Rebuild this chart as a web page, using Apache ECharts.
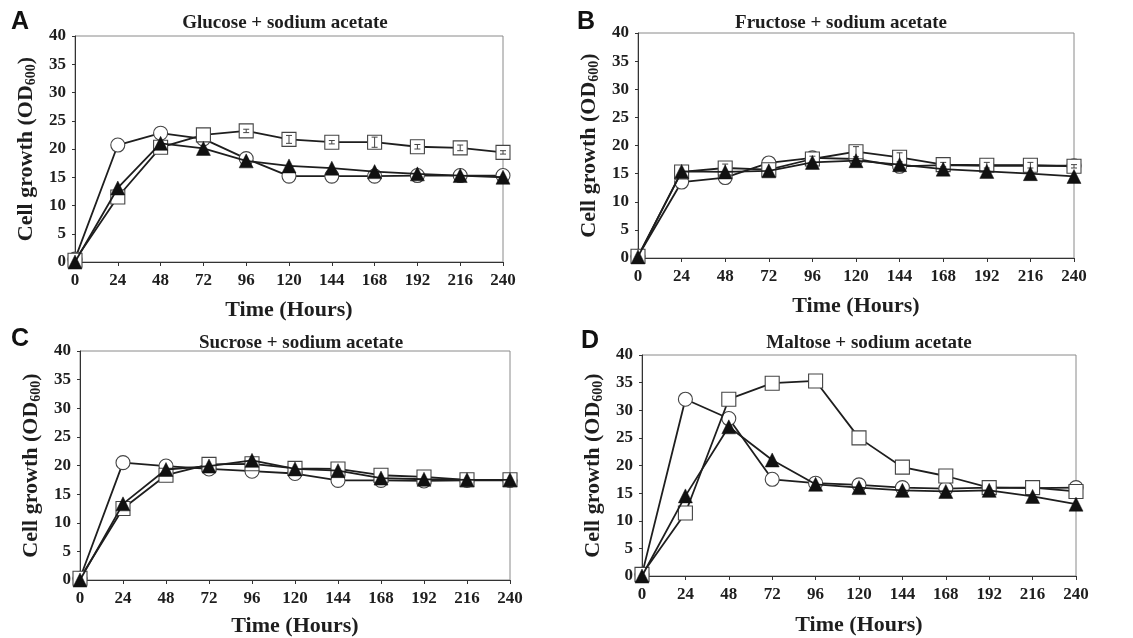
<!DOCTYPE html>
<html>
<head>
<meta charset="utf-8">
<script src="https://cdn.jsdelivr.net/npm/echarts@6/dist/echarts.min.js"></script>
<style>
  html, body { margin: 0; padding: 0; background: #fff; }
  #chart { width: 1133px; height: 638px; }
</style>
</head>
<body>
<div id="chart"></div>
<script>
// time points (hours)
var hours = [0, 24, 48, 72, 96, 120, 144, 168, 192, 216, 240];
var yTicks = [0, 40, 5];

var panelLetters = ['A', 'B', 'C', 'D'];
var panelTitles = ['Glucose + sodium acetate', 'Fructose + sodium acetate',
                   'Sucrose + sodium acetate', 'Maltose + sodium acetate'];

// A - glucose
var glucoseCircle   = [0.5, 20.7, 22.8, 21.8, 18.3, 15.2, 15.2, 15.2, 15.3, 15.3, 15.3];
var glucoseSquare   = [0.3, 11.5, 20.3, 22.5, 23.2, 21.7, 21.2, 21.2, 20.4, 20.2, 19.4];
var glucoseTriangle = [0.0, 13.1, 21.0, 20.1, 17.9, 17.0, 16.6, 16.0, 15.6, 15.3, 15.0];
var glucoseSquareErr = [0, 0, 0, 0, 0.3, 0.7, 0.3, 0.9, 0.4, 0.5, 0.3];

// B - fructose
var fructoseCircle   = [0.3, 13.5, 14.3, 16.9, 17.8, 17.6, 16.3, 16.5, 16.4, 16.4, 16.4];
var fructoseSquare   = [0.3, 15.3, 16.0, 15.7, 17.6, 18.9, 17.9, 16.6, 16.5, 16.5, 16.3];
var fructoseTriangle = [0.2, 15.4, 15.3, 15.5, 17.0, 17.3, 16.6, 15.8, 15.4, 15.0, 14.5];
var fructoseSquareErr = [0, 0, 0.7, 0, 0.5, 0.9, 0.8, 0.4, 0.5, 0.5, 0.3];

// C - sucrose
var sucroseCircle   = [0.3, 20.5, 19.9, 19.4, 19.0, 18.6, 17.4, 17.4, 17.3, 17.4, 17.4];
var sucroseSquare   = [0.3, 12.5, 18.3, 20.2, 20.3, 19.5, 19.4, 18.3, 18.0, 17.5, 17.5];
var sucroseTriangle = [0.0, 13.3, 19.3, 19.9, 20.9, 19.4, 19.1, 17.8, 17.6, 17.5, 17.5];

// D - maltose
var maltoseCircle   = [0.3, 32.0, 28.5, 17.5, 16.8, 16.5, 16.0, 15.8, 16.0, 15.9, 16.0];
var maltoseSquare   = [0.3, 11.4, 32.0, 34.9, 35.3, 25.0, 19.7, 18.1, 16.0, 16.0, 15.3];
var maltoseTriangle = [0.0, 14.5, 27.0, 21.0, 16.6, 16.0, 15.5, 15.3, 15.5, 14.4, 13.0];

var panels = [
    {c: glucoseCircle, s: glucoseSquare, t: glucoseTriangle, e: glucoseSquareErr},
    {c: fructoseCircle, s: fructoseSquare, t: fructoseTriangle, e: fructoseSquareErr},
    {c: sucroseCircle, s: sucroseSquare, t: sucroseTriangle, e: null},
    {c: maltoseCircle, s: maltoseSquare, t: maltoseTriangle, e: null}
];

// layout of the four plot boxes
var grids = [
    {left: 75,  top: 36,  width: 428, height: 226},
    {left: 638, top: 33,  width: 436, height: 225},
    {left: 80,  top: 351, width: 430, height: 230},
    {left: 642, top: 355, width: 434, height: 221}
];
var xNameGaps = [37, 37, 35, 38];
var titlePos = [[280, 9], [836, 9], [296, 329], [864, 329]];
var letterPos = [[11, 10], [577, 10], [11, 327], [581, 329]];

var serif = '"Liberation Serif", "DejaVu Serif", serif';
var ink = '#1e1e1e';

function pairs(ys) {
    return hours.map(function (h, i) { return [h, ys[i]]; });
}

var option = {
    animation: false,
    backgroundColor: '#fff',
    title: [],
    grid: [],
    xAxis: [],
    yAxis: [],
    series: [],
    graphic: []
};

panels.forEach(function (p, i) {
    var g = grids[i];
    option.grid.push({
        left: g.left, top: g.top, width: g.width, height: g.height,
        show: true, borderColor: '#8a8a8a', borderWidth: 1
    });
    option.title.push({
        text: panelTitles[i],
        left: titlePos[i][0], top: titlePos[i][1], textAlign: 'center',
        textStyle: {fontFamily: serif, fontWeight: 'bold', fontSize: 19, color: ink}
    });
    option.graphic.push({
        type: 'text', left: letterPos[i][0], top: letterPos[i][1],
        style: {text: panelLetters[i], font: 'bold 25px "Liberation Sans", Arial, sans-serif', fill: '#111'}
    });
    option.xAxis.push({
        type: 'value', gridIndex: i, min: 0, max: 240, interval: 24,
        name: 'Time (Hours)', nameLocation: 'middle', nameGap: xNameGaps[i],
        nameTextStyle: {fontFamily: serif, fontWeight: 'bold', fontSize: 22, color: ink},
        axisLine: {show: true, lineStyle: {color: '#333', width: 1}},
        axisTick: {show: true, length: 4, lineStyle: {color: '#333'}},
        axisLabel: {fontFamily: serif, fontWeight: 'bold', fontSize: 17, color: ink, margin: 10},
        splitLine: {show: false}
    });
    option.yAxis.push({
        type: 'value', gridIndex: i, min: yTicks[0], max: yTicks[1], interval: yTicks[2],
        name: '{a|Cell growth (OD}{b|600}{a|)}', nameLocation: 'middle', nameGap: 37,
        nameRotate: 90,
        nameTextStyle: {
            rich: {
                a: {fontFamily: serif, fontWeight: 'bold', fontSize: 22, color: ink},
                b: {fontFamily: serif, fontWeight: 'bold', fontSize: 14, color: ink, padding: [10, 0, 0, 0]}
            }
        },
        axisLine: {show: true, lineStyle: {color: '#333', width: 1}},
        axisTick: {show: true, length: 3, lineStyle: {color: '#333'}},
        axisLabel: {fontFamily: serif, fontWeight: 'bold', fontSize: 17, color: ink, margin: 9},
        splitLine: {show: false}
    });

    var common = {
        type: 'line', xAxisIndex: i, yAxisIndex: i, clip: false,
        lineStyle: {color: ink, width: 1.8}
    };
    option.series.push(Object.assign({}, common, {
        name: 'circle', data: pairs(p.c), symbol: 'circle', symbolSize: 14,
        itemStyle: {color: '#fff', borderColor: '#444', borderWidth: 1.1}, z: 2
    }));
    option.series.push(Object.assign({}, common, {
        name: 'square', data: pairs(p.s), symbol: 'rect', symbolSize: 14,
        itemStyle: {color: '#fff', borderColor: '#444', borderWidth: 1.1}, z: 3
    }));
    if (p.e) {
        option.series.push({
            type: 'custom', xAxisIndex: i, yAxisIndex: i, z: 4,
            data: hours.map(function (h, k) { return [h, p.s[k], p.e[k]]; }),
            renderItem: function (params, api) {
                var err = api.value(2);
                if (!err) return null;
                var hi = api.coord([api.value(0), api.value(1) + err]);
                var lo = api.coord([api.value(0), api.value(1) - err]);
                var st = {stroke: '#444', lineWidth: 1};
                return {
                    type: 'group',
                    children: [
                        {type: 'line', shape: {x1: hi[0], y1: hi[1], x2: lo[0], y2: lo[1]}, style: st},
                        {type: 'line', shape: {x1: hi[0] - 3, y1: hi[1], x2: hi[0] + 3, y2: hi[1]}, style: st},
                        {type: 'line', shape: {x1: lo[0] - 3, y1: lo[1], x2: lo[0] + 3, y2: lo[1]}, style: st}
                    ]
                };
            }
        });
    }
    option.series.push(Object.assign({}, common, {
        name: 'triangle', data: pairs(p.t), symbol: 'triangle', symbolSize: 14,
        itemStyle: {color: '#111', borderColor: '#111', borderWidth: 0.5}, z: 5
    }));
});

var myChart = echarts.init(document.getElementById('chart'));
myChart.setOption(option);
</script>
</body>
</html>
